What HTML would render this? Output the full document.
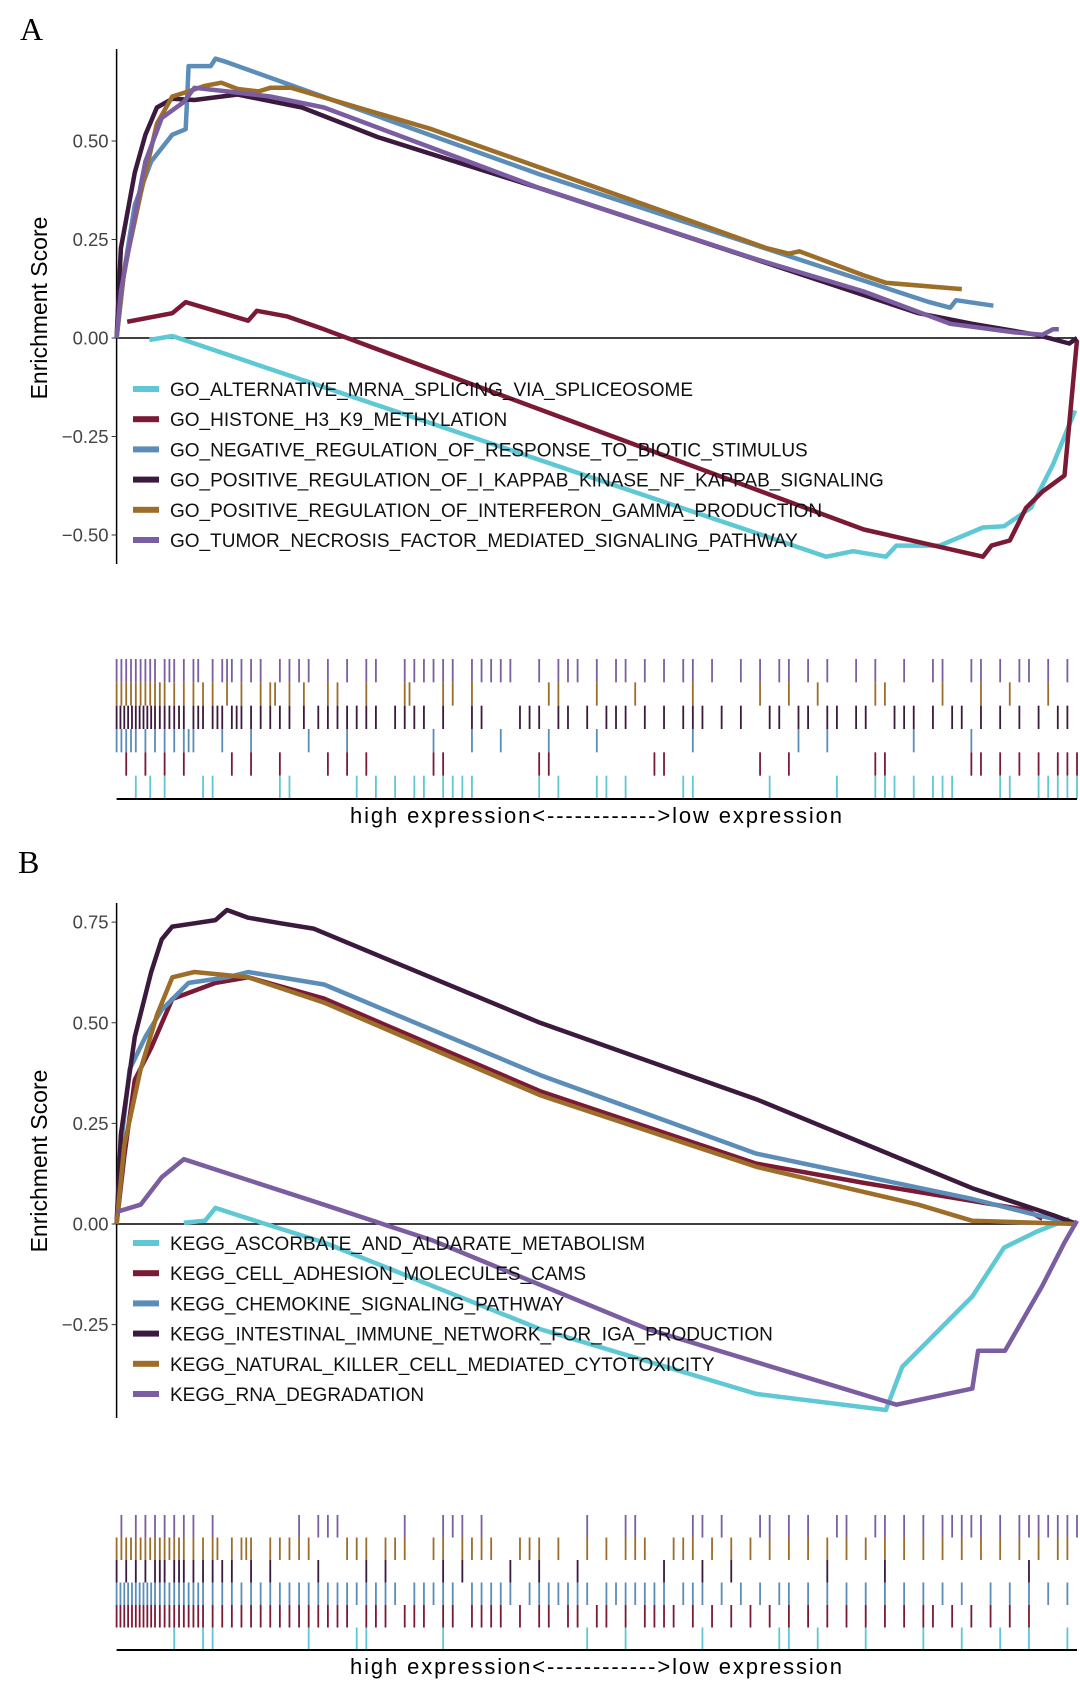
<!DOCTYPE html>
<html><head><meta charset="utf-8">
<style>
html,body{margin:0;padding:0;background:#fff;}
svg{display:block;font-family:"Liberation Sans",sans-serif;}
</style></head>
<body>
<svg id="chart" width="1080" height="1682" viewBox="0 0 1080 1682" xmlns="http://www.w3.org/2000/svg">
<text x="20" y="40" font-family="Liberation Serif,serif" font-size="32">A</text>
<text x="18" y="873" font-family="Liberation Serif,serif" font-size="32">B</text>
<g id="pa"></g>
<g id="pb"></g>
</svg>
<script>
const colors = ["#5ec8d4","#7b1a35","#5b8db8","#3b1a3d","#9c6e2a","#7b5ea1"];
const namesA = ["GO_ALTERNATIVE_MRNA_SPLICING_VIA_SPLICEOSOME","GO_HISTONE_H3_K9_METHYLATION","GO_NEGATIVE_REGULATION_OF_RESPONSE_TO_BIOTIC_STIMULUS","GO_POSITIVE_REGULATION_OF_I_KAPPAB_KINASE_NF_KAPPAB_SIGNALING","GO_POSITIVE_REGULATION_OF_INTERFERON_GAMMA_PRODUCTION","GO_TUMOR_NECROSIS_FACTOR_MEDIATED_SIGNALING_PATHWAY"];
const namesB = ["KEGG_ASCORBATE_AND_ALDARATE_METABOLISM","KEGG_CELL_ADHESION_MOLECULES_CAMS","KEGG_CHEMOKINE_SIGNALING_PATHWAY","KEGG_INTESTINAL_IMMUNE_NETWORK_FOR_IGA_PRODUCTION","KEGG_NATURAL_KILLER_CELL_MEDIATED_CYTOTOXICITY","KEGG_RNA_DEGRADATION"];
const ticksA = [0.5,0.25,0,-0.25,-0.5];
const tickLabelsA = ["0.50","0.25","0.00","\u22120.25","\u22120.50"];
const ticksB = [0.75,0.5,0.25,0,-0.25];
const tickLabelsB = ["0.75","0.50","0.25","0.00","\u22120.25"];
// Panel A series: x = rank percent, y = enrichment score
const a0x=[3.4,5.8,73.9,76.7,80.1,81.2,85.7,90.2,92.4,95.2,97.5,99.8];
const a0y=[-0.005,0.005,-0.555,-0.541,-0.555,-0.527,-0.527,-0.481,-0.478,-0.431,-0.321,-0.184];
const a1x=[1.1,5.8,7.2,13.7,14.6,17.7,21.6,26.1,77.8,90.2,91.1,93.0,94.7,96.4,98.7,100];
const a1y=[0.041,0.063,0.091,0.044,0.069,0.055,0.022,-0.019,-0.486,-0.555,-0.527,-0.514,-0.431,-0.39,-0.349,-0.005];
const a2x=[0,0.8,1.9,3.6,5.8,7.2,7.5,9.8,10.3,11.5,44.1,84.6,86.8,87.4,91.3];
const a2y=[0,0.173,0.338,0.448,0.516,0.53,0.69,0.69,0.709,0.70,0.415,0.091,0.077,0.096,0.082];
const a3x=[0,0.45,1.9,3.0,4.2,5.8,8.1,12.6,14.8,19.3,27.2,44.1,83.5,89.1,95.8,99.2,100];
const a3y=[0,0.228,0.42,0.516,0.585,0.607,0.604,0.618,0.607,0.585,0.51,0.38,0.063,0.036,0.008,-0.014,0];
const a4x=[0,0.8,2.5,4.2,5.8,7.5,9.2,10.9,12.6,14.8,16.0,18.2,32.8,59.8,67.7,70.0,71.1,77.8,80.1,88.0];
const a4y=[0,0.173,0.365,0.544,0.613,0.626,0.64,0.648,0.632,0.626,0.635,0.635,0.53,0.297,0.228,0.214,0.22,0.159,0.14,0.124];
const a5x=[0,0.45,1.9,3.0,4.7,7.0,8.1,11.5,16.0,21.6,44.1,66.6,77.8,86.8,93.6,96.4,97.5,98.1];
const a5y=[0,0.118,0.31,0.448,0.558,0.599,0.635,0.626,0.613,0.585,0.38,0.2,0.118,0.036,0.014,0.008,0.022,0.022];
// Panel B series
const b0x=[7.0,9.2,10.3,12.6,21.6,44.1,66.6,80.1,81.8,84.6,89.1,92.4,95.8,99.2];
const b0y=[0.003,0.008,0.04,0.022,-0.046,-0.261,-0.422,-0.462,-0.355,-0.288,-0.18,-0.059,-0.019,0.013];
const b1x=[0,0.8,1.9,3.6,5.8,10.3,13.7,21.6,44.1,66.6,77.8,94.7,96.4];
const b1y=[0,0.169,0.358,0.438,0.559,0.599,0.613,0.56,0.33,0.15,0.102,0.035,0.013];
const b2x=[0,0.45,1.35,3.0,4.7,7.5,11.5,13.7,21.6,44.1,66.6,89.1,95.8,100];
const b2y=[0,0.196,0.384,0.465,0.532,0.599,0.613,0.626,0.595,0.37,0.175,0.062,0.022,0];
const b3x=[0,0.45,1.9,3.6,4.7,5.8,8.1,10.3,11.5,13.7,17.1,20.5,44.1,66.6,89.1,97.5,100];
const b3y=[0,0.223,0.465,0.626,0.707,0.739,0.747,0.755,0.78,0.761,0.747,0.734,0.5,0.31,0.089,0.022,0];
const b4x=[0,0.8,2.5,4.2,5.8,8.1,13.7,21.6,44.1,66.6,83.5,89.1,100];
const b4y=[0,0.196,0.384,0.519,0.613,0.626,0.613,0.55,0.32,0.142,0.048,0.008,0];
const b5x=[0,2.5,4.7,7.0,21.6,32.8,55.3,81.2,89.1,89.7,92.5,96.4,98.7,100];
const b5y=[0.03,0.048,0.116,0.161,0.048,-0.04,-0.261,-0.449,-0.409,-0.315,-0.315,-0.153,-0.046,0.008];
// Rug hits (rank percent), rows top to bottom
const rugA5=[0,0.5,1,1.5,2,2.5,3,3.5,4,5,5.5,6,7,8,8.5,10,11,11.5,12,13,14,15,17,18,19,20,22,24,26,27,30,31,32,33,34,35,37,38,39,40,41,44,46,47,48,50,52,53,55,57,59,60,62,65,67,69,70,72,74,77,79,82,85,86,89,90,92,94,95,97,99];
const rugA4=[0,0.5,1,1.5,2,2.5,3,3.5,4,4.5,5,6,7,8,9,10,11.5,13,15,16,16.5,18,19.5,22,23,26,30,30.5,34,35,37,45,46,50,54,60,67,70,73,79,80,86,90,93,97];
const rugA3=[0,0.4,0.8,1.2,1.6,2,2.4,2.8,3.2,3.6,4,4.5,5,5.5,6,6.5,7,8,8.5,9,10,10.5,11,12,12.5,13,14,15,16,17,18,19.5,21,22,23,24,25,26,27,29,30,31,32,34,37,38,42,43,44,46,47,49,51,52,53,55,57,59,60,61,63,65,68,69,71,72,74,75,77,78,81,82,83,85,87,88,90,92,94,96,98,99];
const rugA2=[0,0.5,1,1.5,2,3,4,5,6,7,7.5,8,11,14,20,24,33,37,40,45,50,60,71,74,83,89];
const rugA1=[1,3,5,7,12,14,17,22,24,26,33,34,44,45,56,57,67,70,79,80,89,90,92,94,96,98,99,100];
const rugA0=[2,3.5,5,9,10,17,18,25,27,29,31,32,34,35,36,37,44,46,50,51,53,59,60,68,75,79,80,81,83,85,86,87,92,93,96,97,98,99,100];
const rugB5=[0.5,2,3,4,5,6,7,8,10,19,21,22,23,30,34,35,36,38,49,53,54,60,61,63,67,68,70,72,75,76,79,80,82,84,86,87,88,89,90,92,94,95,96,97,98,99,100];
const rugB4=[0,0.5,1,1.5,2,2.5,3,3.5,4,4.5,5,5.5,6,6.5,7,8,9,10,10.5,12,13,13.5,14,16,17,18,19,20,24,25,26,28,29,30,33,34,36,37,38,39,42,43,44,46,49,51,53,54,55,58,59,60,62,64,66,68,70,72,74,76,78,80,82,84,86,88,90,92,94,96,98,99];
const rugB3=[0,1,2,3,4,4.5,5,6,6.5,7,8,9,10,11,12,14,16,21,26,28,34,36,41,44,48,57,61,64,74,80,95];
const rugB2=[0,0.4,0.8,1.2,1.6,2,2.4,2.8,3.2,3.6,4,4.5,5,5.5,6,6.5,7,7.5,8,8.5,9,10,11,12,13,14,15,16,17,18,19,20,21,22,23,24,25,26,27,28,29,31,32,33,34,35,37,38,39,40,41,43,44,45,46,47,48,49,51,52,53,54,55,56,57,59,60,61,63,65,67,69,70,72,74,76,78,80,82,84,86,88,91,93,95,97,99];
const rugB1=[0,0.4,0.8,1.2,1.6,2,2.4,2.8,3.2,3.6,4,4.5,5,5.5,6,6.5,7,7.5,8,8.5,9,10,11,12,13,14,15,16,17,18,19,20,21,22,23,24,26,27,28,30,31,32,34,35,37,38,39,40,42,44,45,47,48,50,51,53,55,56,57,58,60,62,64,66,68,70,72,74,76,78,80,82,84,85,87,89,91,93,95];
const rugB0=[6,9,10,20,25,26,34,49,53,61,69,70,73,78,84,88,92,95,99];

const NS='http://www.w3.org/2000/svg';
function mk(tag,attrs,parent){const e=document.createElementNS(NS,tag);for(const k in attrs)e.setAttribute(k,attrs[k]);parent.appendChild(e);return e;}
const X0=116.6, XW=960.4;
function xs(p){return X0+p/100*XW;}

function panel(g,cfg){
  const ys=v=>cfg.zeroY-v*cfg.unit;
  const ax=mk('line',{x1:X0,x2:X0,y1:cfg.top,y2:cfg.bottom,stroke:'#000','stroke-width':1.5},g);
  
  
  cfg.ticks.forEach((t,i)=>{
    const tk=mk('line',{x1:X0-5,x2:X0,y1:ys(t),y2:ys(t),stroke:'#333','stroke-width':1},g);
    
    
    const tl=mk('text',{x:X0-8,y:ys(t)+6.5,'text-anchor':'end','font-size':18.5,fill:'#444'},g);
    
    
    tl.textContent=cfg.tickLabels[i];
  });
  const yt=mk('text',{x:0,y:0,'text-anchor':'middle','font-size':23,fill:'#000',transform:`translate(47,${cfg.titleY}) rotate(-90)`},g);
  
  
  yt.textContent='Enrichment Score';
  const zl=mk('line',{x1:X0,x2:X0+XW,y1:ys(0),y2:ys(0),stroke:'#000','stroke-width':1.5},g);
  
  
  cfg.series.forEach((s,i)=>{
    const d=s[0].map((p,j)=>(j?'L':'M')+xs(p).toFixed(1)+','+ys(s[1][j]).toFixed(1)).join('');
    const pth=mk('path',{d:d,fill:'none',stroke:colors[i],'stroke-width':4.5,'stroke-linejoin':'round'},g);
    
    
  });
  cfg.names.forEach((n,i)=>{
    const y=cfg.legY+i*30.2;
    const kk=mk('rect',{x:133,y:y-3,width:26,height:6,fill:colors[i]},g);
    
    
    const lt=mk('text',{x:170,y:y+7,'font-size':19,fill:'#111'},g);
    
    
    lt.textContent=n;
  });
  const rh=(cfg.rugBottom-cfg.rugTop)/6;
  cfg.rugs.forEach((r,row)=>{
    const ci=5-row;
    r.forEach(p=>{
      const l=mk('line',{x1:xs(p),x2:xs(p),y1:cfg.rugTop+row*rh,y2:cfg.rugTop+(row+1)*rh,stroke:colors[ci],'stroke-width':1.8},g);
      
      
    });
  });
  const bl=mk('line',{x1:X0,x2:X0+XW,y1:cfg.rugBottom,y2:cfg.rugBottom,stroke:'#000','stroke-width':2},g);
  
  
  const xl=mk('text',{x:596,y:cfg.rugBottom+24,'text-anchor':'middle','font-size':22,fill:'#000',textLength:492,lengthAdjust:'spacing'},g);
  
  
  xl.textContent='high expression<------------>low expression';
}
panel(document.getElementById('pa'),{zeroY:338,unit:394,top:49,bottom:564,ticks:ticksA,tickLabels:tickLabelsA,titleY:308,
  series:[[a0x,a0y],[a1x,a1y],[a2x,a2y],[a3x,a3y],[a4x,a4y],[a5x,a5y]],names:namesA,legY:389,
  rugs:[rugA5,rugA4,rugA3,rugA2,rugA1,rugA0],rugTop:659,rugBottom:799});
panel(document.getElementById('pb'),{zeroY:1224,unit:402.5,top:903,bottom:1418,ticks:ticksB,tickLabels:tickLabelsB,titleY:1161,
  series:[[b0x,b0y],[b1x,b1y],[b2x,b2y],[b3x,b3y],[b4x,b4y],[b5x,b5y]],names:namesB,legY:1243,
  rugs:[rugB5,rugB4,rugB3,rugB2,rugB1,rugB0],rugTop:1515,rugBottom:1650});
</script>
</body></html>
